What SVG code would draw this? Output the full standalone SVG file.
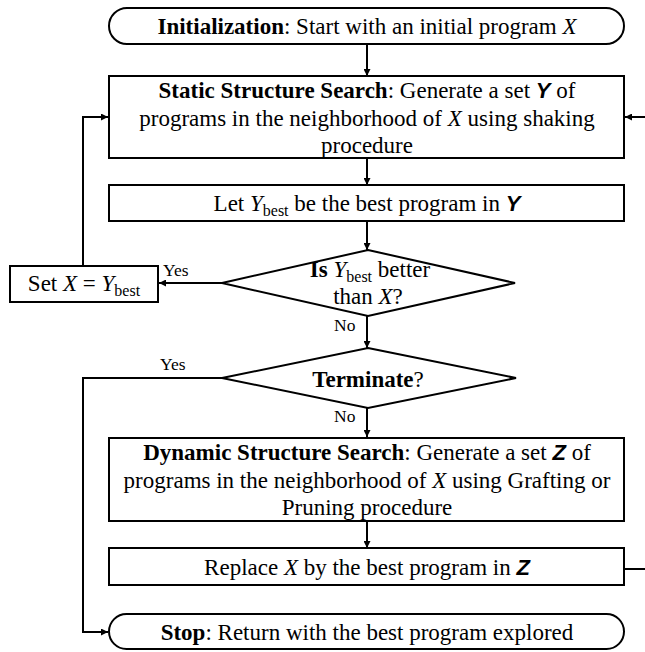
<svg xmlns="http://www.w3.org/2000/svg" width="645" height="652" viewBox="0 0 645 652">
  <defs>
    <marker id="arrow" viewBox="0 0 10 10" refX="10" refY="5" markerWidth="7" markerHeight="7" markerUnits="userSpaceOnUse" orient="auto">
      <path d="M0,0 L10,5 L0,10 z" fill="#000"/>
    </marker>
    <style>
      .box { fill: #fff; stroke: #000; stroke-width: 2; }
      .edge { fill: none; stroke: #000; stroke-width: 2; }
      .t { font-family: "Liberation Serif", "Times New Roman", serif; font-size: 23px; fill: #000; }
      .lbl { font-family: "Liberation Serif", "Times New Roman", serif; font-size: 17.5px; fill: #000; }
      .b { font-weight: bold; }
      .i { font-style: italic; }
      .set { font-family: "Liberation Sans", Arial, sans-serif; font-weight: bold; font-style: italic; font-size: 22px; }
      .sub { font-size: 16px; }
    </style>
  </defs>

  <!-- connectors -->
  <g id="connectors">
    <line class="edge" x1="367" y1="44" x2="367" y2="76" marker-end="url(#arrow)"/>
    <line class="edge" x1="367" y1="158" x2="367" y2="185" marker-end="url(#arrow)"/>
    <line class="edge" x1="367" y1="221" x2="367" y2="250" marker-end="url(#arrow)"/>
    <line class="edge" x1="222" y1="283" x2="159" y2="283" marker-end="url(#arrow)"/>
    <polyline class="edge" points="83,266 83,117 108,117" marker-end="url(#arrow)"/>
    <line class="edge" x1="367" y1="316" x2="367" y2="348" marker-end="url(#arrow)"/>
    <line class="edge" x1="367" y1="408" x2="367" y2="437" marker-end="url(#arrow)"/>
    <line class="edge" x1="367" y1="521" x2="367" y2="548" marker-end="url(#arrow)"/>
    <polyline class="edge" points="222,378 83,378 83,632 108,632" marker-end="url(#arrow)"/>
    <line class="edge" x1="625" y1="569" x2="645" y2="569"/>
    <line class="edge" x1="645" y1="117" x2="625" y2="117" marker-end="url(#arrow)"/>
    <text class="lbl" x="163" y="276">Yes</text>
    <text class="lbl" x="334" y="331">No</text>
    <text class="lbl" x="160" y="370">Yes</text>
    <text class="lbl" x="334" y="422">No</text>
  </g>

  <g id="init">
    <rect class="box" x="109" y="8" width="515" height="36" rx="18" ry="18"/>
    <text class="t" x="367" y="34" text-anchor="middle"><tspan class="b">Initialization</tspan>: Start with an initial program <tspan class="i">X</tspan></text>
  </g>

  <g id="static-search">
    <rect class="box" x="109" y="76" width="515" height="82"/>
    <text class="t" x="367" y="98" text-anchor="middle"><tspan class="b">Static Structure Search</tspan>: Generate a set  <tspan class="set">Y</tspan> of</text>
    <text class="t" x="367" y="126" text-anchor="middle">programs in the neighborhood of <tspan class="i">X</tspan> using shaking</text>
    <text class="t" x="367" y="153" text-anchor="middle">procedure</text>
  </g>

  <g id="best-y">
    <rect class="box" x="109" y="185" width="515" height="36"/>
    <text class="t" x="367" y="211" text-anchor="middle">Let <tspan class="i">Y</tspan><tspan class="sub" dy="5">best</tspan><tspan dy="-5"> be the best program in </tspan><tspan class="set">Y</tspan></text>
  </g>

  <g id="set-x">
    <rect class="box" x="10" y="266" width="148" height="36"/>
    <text class="t" x="84" y="291" text-anchor="middle">Set <tspan class="i">X</tspan> = <tspan class="i">Y</tspan><tspan class="sub" dy="5">best</tspan></text>
  </g>

  <g id="is-better">
    <polygon class="box" points="368,250 515,283 368,316 222,283"/>
    <text class="t" x="370" y="277" text-anchor="middle"><tspan class="b">Is</tspan> <tspan class="i">Y</tspan><tspan class="sub" dy="5">best</tspan><tspan dy="-5"> better</tspan></text>
    <text class="t" x="368" y="304" text-anchor="middle">than <tspan class="i">X</tspan>?</text>
  </g>

  <g id="terminate">
    <polygon class="box" points="368,348 516,378 368,408 222,378"/>
    <text class="t" x="368" y="387" text-anchor="middle"><tspan class="b">Terminate</tspan>?</text>
  </g>

  <g id="dynamic-search">
    <rect class="box" x="109" y="438" width="515" height="83"/>
    <text class="t" x="367" y="460" text-anchor="middle"><tspan class="b">Dynamic Structure Search</tspan>: Generate a set <tspan class="set">Z</tspan> of</text>
    <text class="t" x="367" y="488" text-anchor="middle">programs in the neighborhood of <tspan class="i">X</tspan> using Grafting or</text>
    <text class="t" x="367" y="515" text-anchor="middle">Pruning procedure</text>
  </g>

  <g id="replace">
    <rect class="box" x="109" y="548" width="515" height="37"/>
    <text class="t" x="367" y="575" text-anchor="middle">Replace <tspan class="i">X</tspan> by the best program in <tspan class="set">Z</tspan></text>
  </g>

  <g id="stop">
    <rect class="box" x="109" y="614" width="515" height="35" rx="17.5" ry="17.5"/>
    <text class="t" x="367" y="640" text-anchor="middle"><tspan class="b">Stop</tspan>: Return with the best program explored</text>
  </g>
</svg>
